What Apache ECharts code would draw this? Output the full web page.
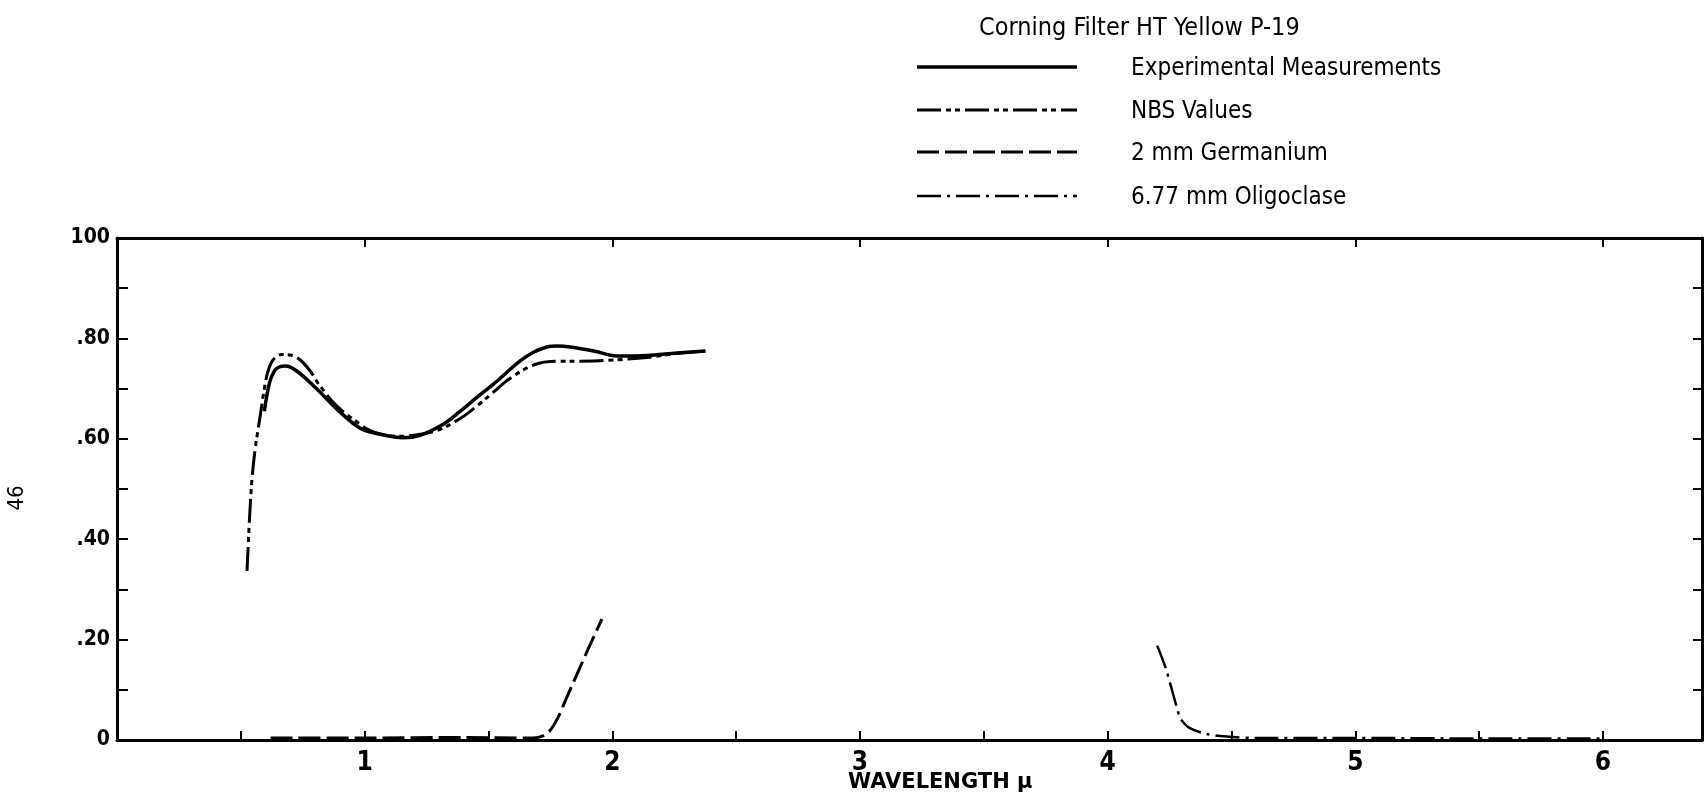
<!DOCTYPE html>
<html>
<head>
<meta charset="utf-8">
<script src="https://cdn.jsdelivr.net/npm/echarts@6/dist/echarts.min.js"></script>
<style>
html,body{margin:0;padding:0;background:#fff;}
#c{width:1705px;height:800px;}
</style>
</head>
<body>
<div id="c"></div>
<script>
// ---- data (wavelength in microns, transmittance fraction) ----
const experimental = [
  [0.595,0.655],[0.615,0.71],[0.635,0.735],[0.655,0.743],[0.68,0.745],[0.726,0.735],
  [0.807,0.699],[0.888,0.659],[0.982,0.621],[1.063,0.609],[1.156,0.602],[1.224,0.607],
  [1.317,0.629],[1.386,0.655],[1.459,0.685],[1.52,0.709],[1.628,0.755],[1.68,0.772],
  [1.736,0.783],[1.78,0.785],[1.83,0.783],[1.925,0.775],[2.019,0.765],[2.14,0.766],
  [2.26,0.771],[2.376,0.775]
];
const nbsValues = [
  [0.525,0.337],[0.535,0.44],[0.545,0.52],[0.558,0.58],[0.578,0.645],[0.595,0.70],
  [0.610,0.735],[0.630,0.757],[0.665,0.768],[0.70,0.767],[0.74,0.757],[0.78,0.735],
  [0.82,0.705],[0.888,0.665],[0.954,0.639],[1.02,0.617],[1.08,0.608],[1.143,0.605],
  [1.224,0.609],[1.305,0.619],[1.40,0.645],[1.46,0.668],[1.52,0.693],[1.575,0.716],
  [1.64,0.737],[1.70,0.750],[1.75,0.754],[1.925,0.755],[2.005,0.757],[2.14,0.762],
  [2.26,0.770],[2.376,0.775]
];
const germanium = [
  [0.62,0.004],[1.0,0.004],[1.4,0.005],[1.68,0.004],[1.72,0.008],[1.75,0.020],
  [1.78,0.044],[1.81,0.078],[1.87,0.145],[1.904,0.183],[1.958,0.241]
];
const oligoclase = [
  [4.20,0.188],[4.234,0.144],[4.28,0.064],[4.295,0.042],[4.33,0.024],[4.40,0.012],
  [4.48,0.007],[4.6,0.004],[5.0,0.004],[5.5,0.003],[6.0,0.003]
];
const seriesNames = ['Experimental Measurements','NBS Values','2 mm Germanium','6.77 mm Oligoclase'];
const chartTitle = 'Corning Filter HT Yellow P-19';
const xAxisTitle = 'WAVELENGTH \u03bc';
const pageNumber = '46';
const yTickLabels = {0:'0',0.2:'.20',0.4:'.40',0.6:'.60',0.8:'.80',1:'100'};
const xTickLabels = {1:'1',2:'2',3:'3',4:'4',5:'5',6:'6'};

// ---- styles ----
const dashes = [null, [24,5,5,4,5,5], [22,6], [24,6,3,6]];
const widths = [3.5, 3, 3, 2.5];
const narrow = '"Liberation Sans Narrow","DejaVu Sans Condensed",sans-serif';

const chart = echarts.init(document.getElementById('c'), null, {renderer:'canvas'});

function legendRow(i, y) {
  return [
    {type:'line', shape:{x1:917,y1:y,x2:1077,y2:y},
     style:{stroke:'#000', lineWidth:widths[i], lineDash: dashes[i] || null}},
    {type:'text', left:1131, top:y-10,
     style:{text:seriesNames[i], font:'24px '+narrow, fill:'#000'}}
  ];
}

const frameLine = {show:true, onZero:false, lineStyle:{color:'#000', width:3}};

const option = {
  backgroundColor:'#fff',
  animation:false,
  grid:{left:117, right:3, top:238, bottom:60, containLabel:false},
  xAxis:[{
    type:'value', min:0, max:6.4, interval:0.5, position:'bottom',
    axisLine:frameLine,
    axisTick:{show:true, inside:true, length:9, lineStyle:{color:'#000', width:2}},
    axisLabel:{color:'#000', fontFamily:narrow, fontWeight:'bold', fontSize:26, margin:10,
      formatter:v => xTickLabels[Math.round(v*100)/100] || ''},
    splitLine:{show:false}
  },{
    type:'value', min:0, max:6.4, interval:1, position:'top',
    axisLine:frameLine,
    axisTick:{show:true, inside:true, length:9, lineStyle:{color:'#000', width:2}},
    axisLabel:{show:false}, splitLine:{show:false}
  }],
  yAxis:[{
    type:'value', min:0, max:1, interval:0.1, position:'left',
    axisLine:frameLine,
    axisTick:{show:true, inside:true, length:11, lineStyle:{color:'#000', width:2}},
    axisLabel:{color:'#000', fontFamily:narrow, fontWeight:'bold', fontSize:21, margin:7,
      formatter:v => { const k = Math.round(v*10)/10; return yTickLabels[k] !== undefined ? yTickLabels[k] : ''; }},
    splitLine:{show:false}
  },{
    type:'value', min:0, max:1, interval:0.1, position:'right',
    axisLine:frameLine,
    axisTick:{show:true, inside:true, length:9, lineStyle:{color:'#000', width:2}},
    axisLabel:{show:false}, splitLine:{show:false}
  }],
  series:[
    {name:seriesNames[0], type:'line', data:experimental, smooth:0.35, showSymbol:false,
     lineStyle:{color:'#000', width:widths[0], type:'solid'}},
    {name:seriesNames[1], type:'line', data:nbsValues, smooth:0.35, showSymbol:false,
     lineStyle:{color:'#000', width:widths[1], type:dashes[1]}},
    {name:seriesNames[2], type:'line', data:germanium, smooth:0.3, showSymbol:false,
     lineStyle:{color:'#000', width:widths[2], type:dashes[2]}},
    {name:seriesNames[3], type:'line', data:oligoclase, smooth:0.3, showSymbol:false,
     xAxisIndex:1, yAxisIndex:1,
     lineStyle:{color:'#000', width:widths[3], type:dashes[3]}}
  ],
  graphic:[
    {type:'text', left:979, top:16, style:{text:chartTitle, font:'25px '+narrow, fill:'#000'}},
    ...legendRow(0, 67), ...legendRow(1, 110), ...legendRow(2, 152), ...legendRow(3, 196),
    {type:'text', left:848, top:772, style:{text:xAxisTitle, font:'bold 21px "DejaVu Sans",sans-serif', fill:'#000'}},
    {type:'text', x:17, y:498, rotation:Math.PI/2,
     style:{text:pageNumber, font:'22px '+narrow, fill:'#000', align:'center', verticalAlign:'middle'}}
  ]
};
chart.setOption(option);
</script>
</body>
</html>
